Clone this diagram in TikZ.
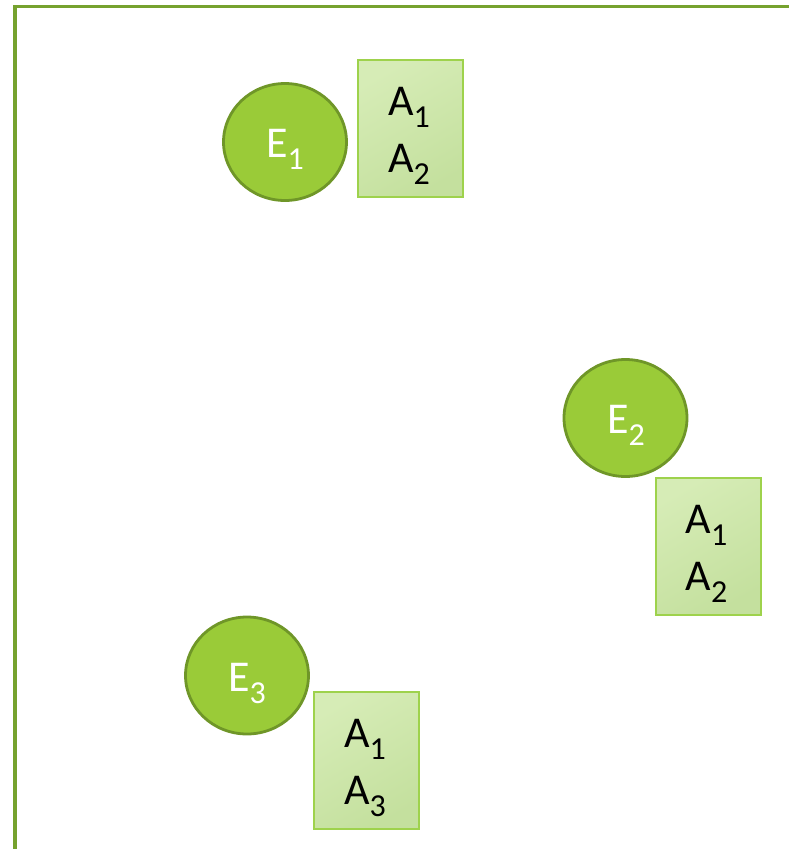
\documentclass[tikz,border=0pt]{standalone}
\usepackage{fontspec}
\setmainfont{Carlito}
\usetikzlibrary{shapes.geometric}
\definecolor{framec}{HTML}{76A22E}
\definecolor{circfill}{HTML}{9ACB38}
\definecolor{circdraw}{HTML}{6F9628}
\definecolor{boxdraw}{HTML}{9ED24C}
\definecolor{boxtop}{HTML}{D6ECB6}
\definecolor{boxbot}{HTML}{C4E09E}
\newcommand{\sbs}[1]{\raisebox{-12pt}{\fontsize{32}{32}\selectfont #1}}
\tikzset{
  ent/.style={ellipse, draw=circdraw, fill=circfill, line width=2.8pt,
    minimum width=123pt, minimum height=117pt, inner sep=0pt},
  enttext/.style={text=white, font=\fontsize{44}{44}\selectfont},
  attr/.style={rectangle, draw=boxdraw, line width=2pt,
    top color=boxtop, bottom color=boxbot, shading angle=30,
    minimum width=105pt, minimum height=137pt, inner sep=0pt},
  attrtext/.style={text=black, align=center, font=\fontsize{44}{57}\selectfont},
  frameline/.style={draw=framec, line width=3.5pt}
}
\begin{document}
\begin{tikzpicture}[x=1pt,y=1pt]
\useasboundingbox (0,0) rectangle (788,-849);
\draw[frameline] (15,-860) -- (15,-6.5) -- (800,-6.5);
% entities
\node[ent] (e1) at (285,-142) {};
\node[enttext] (e1t) at (285,-149) {E\sbs{1}};
\node[ent] (e2) at (625.5,-418) {};
\node[enttext] (e2t) at (626,-425) {E\sbs{2}};
\node[ent] (e3) at (247,-675.5) {};
\node[enttext] (e3t) at (247,-683) {E\sbs{3}};
% attribute boxes
\node[attr] (b1) at (410.5,-128.5) {};
\node[attrtext] (b1t) at (409,-136) {A\sbs{1}\\A\sbs{2}};
\node[attr] (b2) at (708,-546) {};
\node[attrtext] (b2t) at (706.5,-553.5) {A\sbs{1}\\A\sbs{2}};
\node[attr] (b3) at (366.5,-760) {};
\node[attrtext] (b3t) at (365,-767.5) {A\sbs{1}\\A\sbs{3}};
\end{tikzpicture}
\end{document}
